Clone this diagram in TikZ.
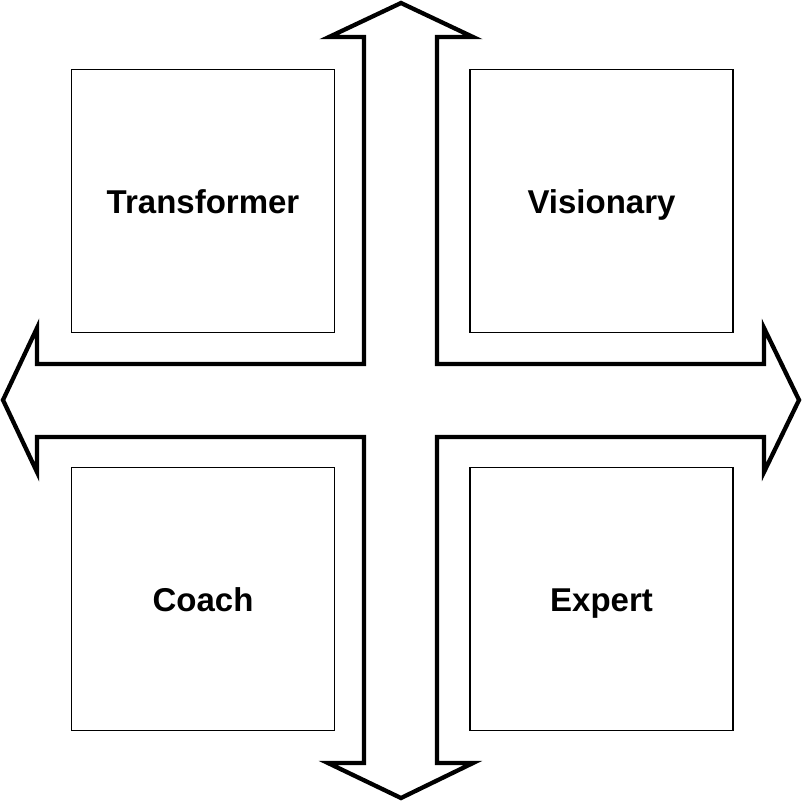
\documentclass[tikz,border=0pt]{standalone}
\usepackage{fontspec}
\setmainfont{Liberation Sans}
\begin{document}
\begin{tikzpicture}[x=1pt,y=-1pt,
  quad/.style={draw=black,line width=1.8pt,minimum width=263pt,minimum height=263pt,inner sep=0pt},
  qlabel/.style={anchor=base,inner sep=0pt,font=\fontsize{33}{38}\selectfont\bfseries},
  crossline/.style={draw=black,line width=4.3pt,line join=miter}]
\useasboundingbox (0,0) rectangle (802,801);
\node[quad] (tl) at (203,201) {};
\node[quad] (tr) at (601.5,201) {};
\node[quad] (bl) at (203,599) {};
\node[quad] (br) at (601.5,599) {};
\node[qlabel] (tlt) at (203,213) {Transformer};
\node[qlabel] (trt) at (601.5,213) {Visionary};
\node[qlabel] (blt) at (203,611) {Coach};
\node[qlabel] (brt) at (601.5,611) {Expert};
\draw[crossline] (401,3) -- (473,37) -- (437,37) -- (437,364) -- (764,364) -- (764,328)
  -- (799,400) -- (764,472) -- (764,437) -- (437,437) -- (437,763) -- (473,763)
  -- (401,798) -- (328,763) -- (364,763) -- (364,437) -- (37,437) -- (37,472)
  -- (3,400) -- (37,328) -- (37,364) -- (364,364) -- (364,37) -- (329,37) -- cycle;
\end{tikzpicture}
\end{document}
